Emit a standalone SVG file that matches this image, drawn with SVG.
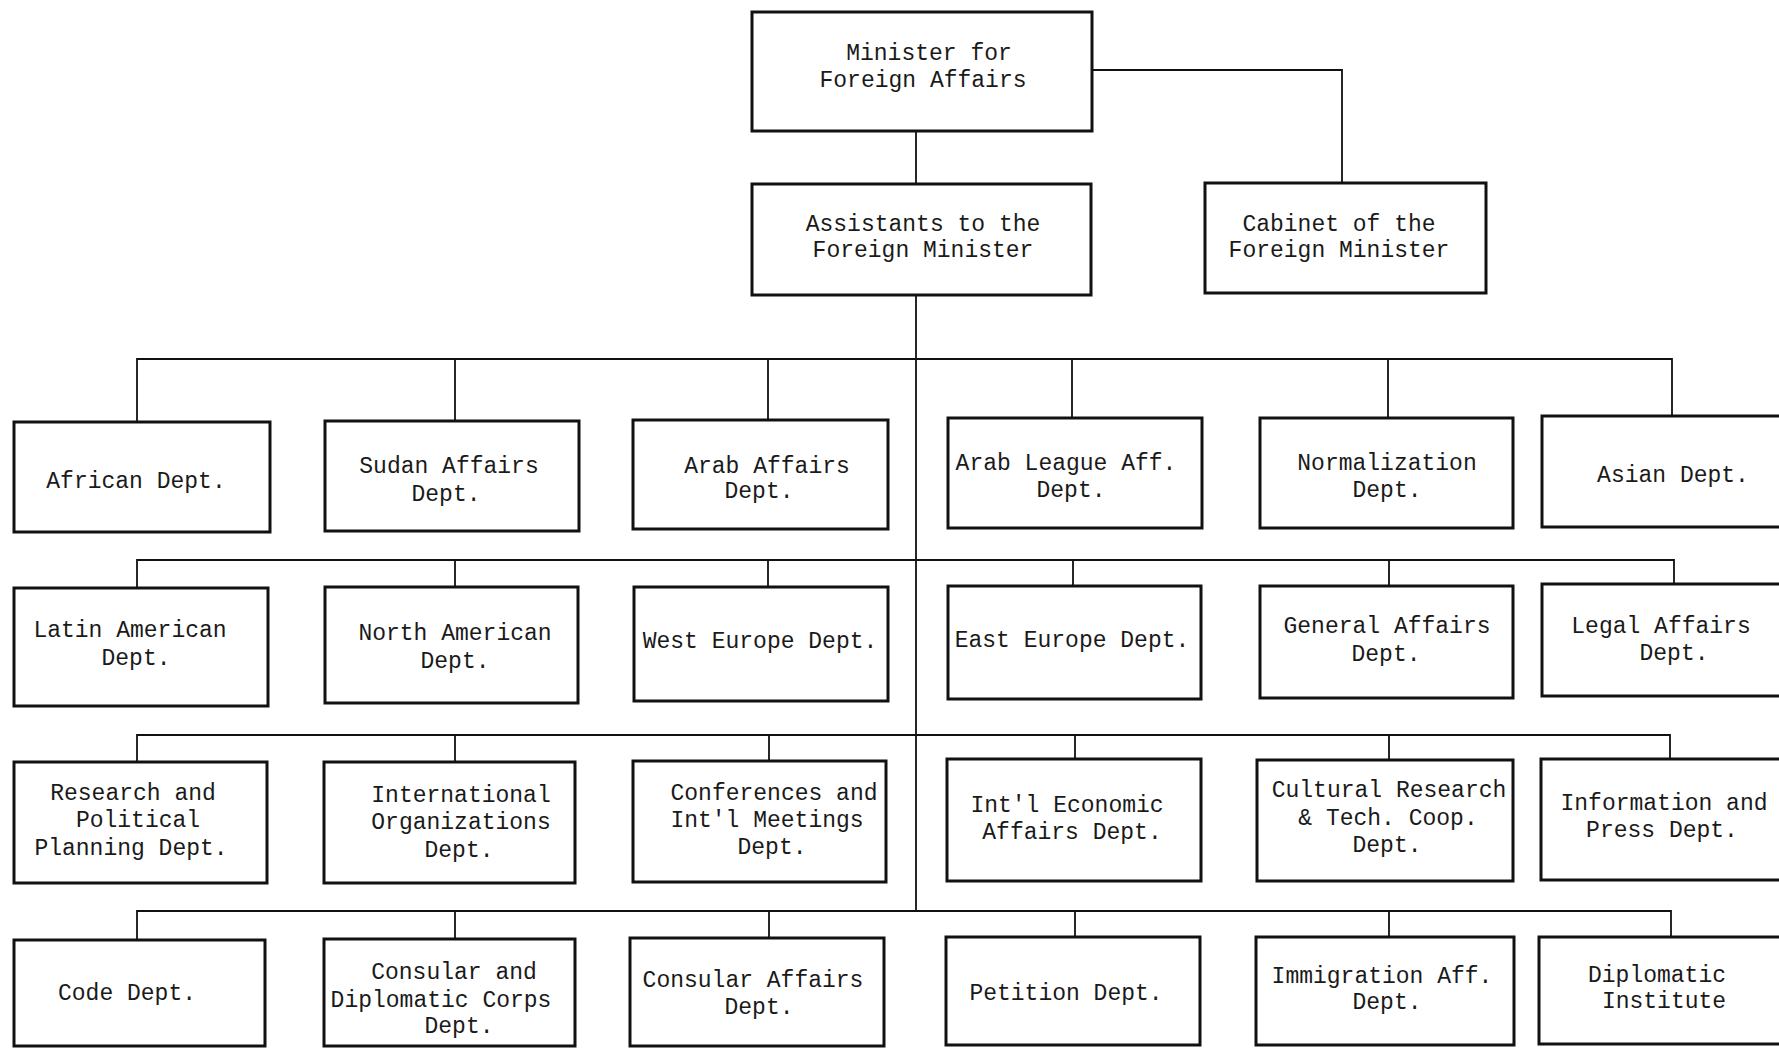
<svg xmlns="http://www.w3.org/2000/svg" width="1779" height="1048" viewBox="0 0 1779 1048">
<style>
.box{fill:#fff;stroke:#111;stroke-width:3}
.ln{stroke:#111;stroke-width:1.8;fill:none}
text{font-family:"Liberation Mono","DejaVu Sans Mono",monospace;font-size:23px;fill:#1a1a1a;text-anchor:middle}
</style>
<rect width="1779" height="1048" fill="#fff"/>
<g id="connectors">
<path class="ln" d="M916 131V184M1092 70H1342V183M916 295V911"/>
<path class="ln" d="M137 422V359H1672V416M455 359V421M768 359V420M1072 359V418M1388 359V418"/>
<path class="ln" d="M137 588V560H1674V584M455 560V587M768 560V587M1073 560V586M1389 560V586"/>
<path class="ln" d="M137 762V735H1670V759M455 735V762M769 735V761M1075 735V759M1389 735V760"/>
<path class="ln" d="M137 940V911H1671V937M455 911V939M769 911V938M1075 911V937M1389 911V937"/>
</g>
<g id="minister"><rect class="box" x="752" y="12" width="340" height="119"/><text x="929" y="60">Minister for</text><text x="923" y="87">Foreign Affairs</text></g>
<g id="assistants"><rect class="box" x="752" y="184" width="339" height="111"/><text x="923" y="231">Assistants to the</text><text x="923" y="257">Foreign Minister</text></g>
<g id="cabinet"><rect class="box" x="1205" y="183" width="281" height="110"/><text x="1339" y="231">Cabinet of the</text><text x="1339" y="257">Foreign Minister</text></g>

<g id="african"><rect class="box" x="14" y="422" width="256" height="110"/><text x="136" y="488">African Dept.</text></g>
<g id="sudan"><rect class="box" x="325" y="421" width="254" height="110"/><text x="449" y="473">Sudan Affairs</text><text x="446" y="501">Dept.</text></g>
<g id="arab"><rect class="box" x="633" y="420" width="255" height="109"/><text x="767" y="473">Arab Affairs</text><text x="759" y="498">Dept.</text></g>
<g id="arableague"><rect class="box" x="948" y="418" width="254" height="110"/><text x="1066" y="470">Arab League Aff.</text><text x="1071" y="497">Dept.</text></g>
<g id="normalization"><rect class="box" x="1260" y="418" width="253" height="110"/><text x="1387" y="470">Normalization</text><text x="1387" y="497">Dept.</text></g>
<g id="asian"><rect class="box" x="1542" y="416" width="262" height="111"/><text x="1673" y="482">Asian Dept.</text></g>

<g id="latinam"><rect class="box" x="14" y="588" width="254" height="118"/><text x="130" y="637">Latin American</text><text x="136" y="665">Dept.</text></g>
<g id="northam"><rect class="box" x="325" y="587" width="253" height="116"/><text x="455" y="640">North American</text><text x="455" y="668">Dept.</text></g>
<g id="westeurope"><rect class="box" x="634" y="587" width="254" height="114"/><text x="760" y="648">West Europe Dept.</text></g>
<g id="easteurope"><rect class="box" x="948" y="586" width="253" height="113"/><text x="1072" y="647">East Europe Dept.</text></g>
<g id="general"><rect class="box" x="1260" y="586" width="253" height="112"/><text x="1387" y="633">General Affairs</text><text x="1386" y="661">Dept.</text></g>
<g id="legal"><rect class="box" x="1542" y="584" width="262" height="112"/><text x="1661" y="633">Legal Affairs</text><text x="1674" y="660">Dept.</text></g>

<g id="research"><rect class="box" x="14" y="762" width="253" height="121"/><text x="133" y="800">Research and</text><text x="138" y="827">Political</text><text x="131" y="855">Planning Dept.</text></g>
<g id="intlorg"><rect class="box" x="324" y="762" width="251" height="121"/><text x="461" y="802">International</text><text x="461" y="829">Organizations</text><text x="459" y="857">Dept.</text></g>
<g id="conferences"><rect class="box" x="633" y="761" width="253" height="121"/><text x="774" y="800">Conferences and</text><text x="767" y="827">Int'l Meetings</text><text x="772" y="854">Dept.</text></g>
<g id="intlecon"><rect class="box" x="947" y="759" width="254" height="122"/><text x="1067" y="812">Int'l Economic</text><text x="1072" y="839">Affairs Dept.</text></g>
<g id="cultural"><rect class="box" x="1257" y="760" width="256" height="121"/><text x="1389" y="797">Cultural Research</text><text x="1388" y="825">&amp; Tech. Coop.</text><text x="1387" y="852">Dept.</text></g>
<g id="information"><rect class="box" x="1541" y="759" width="263" height="121"/><text x="1664" y="810">Information and</text><text x="1662" y="837">Press Dept.</text></g>

<g id="code"><rect class="box" x="14" y="940" width="251" height="106"/><text x="127" y="1000">Code Dept.</text></g>
<g id="consulardip"><rect class="box" x="324" y="939" width="251" height="107"/><text x="454" y="979">Consular and</text><text x="441" y="1007">Diplomatic Corps</text><text x="459" y="1033">Dept.</text></g>
<g id="consularaff"><rect class="box" x="630" y="938" width="254" height="108"/><text x="753" y="987">Consular Affairs</text><text x="759" y="1014">Dept.</text></g>
<g id="petition"><rect class="box" x="946" y="937" width="254" height="108"/><text x="1066" y="1000">Petition Dept.</text></g>
<g id="immigration"><rect class="box" x="1256" y="937" width="258" height="108"/><text x="1382" y="983">Immigration Aff.</text><text x="1387" y="1009">Dept.</text></g>
<g id="diplomatic"><rect class="box" x="1539" y="937" width="265" height="107"/><text x="1657" y="982">Diplomatic</text><text x="1664" y="1008">Institute</text></g>
</svg>
